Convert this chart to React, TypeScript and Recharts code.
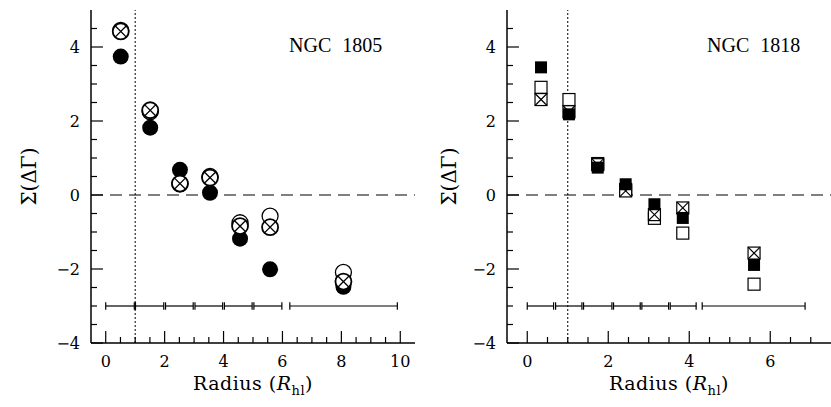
import React from "react";
import {
  ScatterChart,
  Scatter,
  XAxis,
  YAxis,
  ReferenceLine,
} from "recharts";

// ---------- NGC 1805 (circles) ----------
const radius1805 = [0.51, 1.51, 2.52, 3.54, 4.56, 5.58, 8.07];
const open1805 = [4.45, 2.25, 0.3, 0.5, -0.75, -0.57, -2.09];
const crossed1805 = [4.42, 2.29, 0.31, 0.47, -0.84, -0.87, -2.34];
const filled1805 = [3.74, 1.82, 0.68, 0.06, -1.18, -2.01, -2.48];
const binStart1805 = [0, 1.01, 2.03, 3.03, 4.03, 5.03, 6.25];
const binEnd1805 = [0.97, 1.97, 2.97, 3.97, 4.97, 5.98, 9.9];
const xTicks1805 = [0, 0.5, 1, 1.5, 2, 2.5, 3, 3.5, 4, 4.5, 5, 5.5, 6, 6.5, 7, 7.5, 8, 8.5, 9, 9.5, 10];

// ---------- NGC 1818 (squares) ----------
const radius1818 = [0.34, 1.03, 1.74, 2.43, 3.14, 3.84, 5.6];
const open1818 = [2.91, 2.58, 0.85, 0.15, -0.63, -1.03, -2.41];
const crossed1818 = [2.58, 2.25, 0.82, 0.11, -0.53, -0.35, -1.57];
const filled1818 = [3.45, 2.18, 0.74, 0.29, -0.25, -0.62, -1.89];
const binStart1818 = [0, 0.7, 1.39, 2.13, 2.83, 3.53, 4.32];
const binEnd1818 = [0.65, 1.35, 2.09, 2.79, 3.49, 4.17, 6.86];
const xTicks1818 = [0, 0.5, 1, 1.5, 2, 2.5, 3, 3.5, 4, 4.5, 5, 5.5, 6, 6.5, 7];

// ---------- shared ----------
const yTicks = [-4, -3.5, -3, -2.5, -2, -1.5, -1, -0.5, 0, 0.5, 1, 1.5, 2, 2.5, 3, 3.5, 4, 4.5];
const yDomain: [number, number] = [-4, 5];
const binLevel = -3;
const capHalf = 0.1;
const rhalf = 1;

const FONT = "'DejaVu Serif', serif";

const fmt = (v: number) => (v < 0 ? "\u2212" + Math.abs(v) : String(v));
const isMajor = (v: number) => Math.abs(v % 2) < 1e-6;

const BottomTick = (props: any) => {
  const { x, y, payload } = props;
  const v = payload.value;
  const m = isMajor(v);
  return (
    <g>
      <line x1={x} x2={x} y1={y} y2={y - (m ? 12 : 6)} stroke="#000" strokeWidth={1.2} />
      {m && (
        <text x={x} y={y + 24} textAnchor="middle" fontFamily={FONT} fontSize={16} fill="#000">
          {fmt(v)}
        </text>
      )}
    </g>
  );
};
const TopTick = (props: any) => {
  const { x, y, payload } = props;
  const m = isMajor(payload.value);
  return <line x1={x} x2={x} y1={y} y2={y + (m ? 12 : 6)} stroke="#000" strokeWidth={1.2} />;
};
const LeftTick = (props: any) => {
  const { x, y, payload } = props;
  const v = payload.value;
  const m = isMajor(v);
  return (
    <g>
      <line x1={x} x2={x + (m ? 12 : 6)} y1={y} y2={y} stroke="#000" strokeWidth={1.2} />
      {m && (
        <text x={x - 11} y={y + 6} textAnchor="end" fontFamily={FONT} fontSize={16} fill="#000">
          {fmt(v)}
        </text>
      )}
    </g>
  );
};
const RightTick = (props: any) => {
  const { x, y, payload } = props;
  const m = isMajor(payload.value);
  return <line x1={x} x2={x - (m ? 12 : 6)} y1={y} y2={y} stroke="#000" strokeWidth={1.2} />;
};

const R = 8;
const FilledCircle = (p: any) => <circle cx={p.cx} cy={p.cy} r={R} fill="#000" />;
const OpenCircle = (p: any) => (
  <circle cx={p.cx} cy={p.cy} r={R} fill="#fff" stroke="#000" strokeWidth={1.3} />
);
const CrossCircle = (p: any) => {
  const d = R * 0.707;
  return (
    <g>
      <circle cx={p.cx} cy={p.cy} r={R} fill="#fff" stroke="#000" strokeWidth={1.8} />
      <line x1={p.cx - d} y1={p.cy - d} x2={p.cx + d} y2={p.cy + d} stroke="#000" strokeWidth={1.3} />
      <line x1={p.cx - d} y1={p.cy + d} x2={p.cx + d} y2={p.cy - d} stroke="#000" strokeWidth={1.3} />
    </g>
  );
};
const S = 6;
const FilledSquare = (p: any) => <rect x={p.cx - S} y={p.cy - S} width={2 * S} height={2 * S} fill="#000" />;
const OpenSquare = (p: any) => (
  <rect x={p.cx - S} y={p.cy - S} width={2 * S} height={2 * S} fill="#fff" stroke="#000" strokeWidth={1.2} />
);
const CrossSquare = (p: any) => (
  <g>
    <rect x={p.cx - S} y={p.cy - S} width={2 * S} height={2 * S} fill="#fff" stroke="#000" strokeWidth={1.2} />
    <line x1={p.cx - S} y1={p.cy - S} x2={p.cx + S} y2={p.cy + S} stroke="#000" strokeWidth={1.2} />
    <line x1={p.cx - S} y1={p.cy + S} x2={p.cx + S} y2={p.cy - S} stroke="#000" strokeWidth={1.2} />
  </g>
);

const XLabel = (props: any) => {
  const vb = props.viewBox || {};
  const cx = vb.x + vb.width / 2;
  return (
    <text x={cx} y={vb.y + 47} textAnchor="middle" fontFamily={FONT} fontSize={19} fill="#000" letterSpacing={0.5}>
      Radius (<tspan fontStyle="italic">R</tspan>
      <tspan fontSize={13} dy={5}>hl</tspan>
      <tspan dy={-5}>)</tspan>
    </text>
  );
};
const YLabel = (props: any) => {
  const vb = props.viewBox || {};
  const cy = vb.y + vb.height / 2;
  const cx = props.lx;
  return (
    <text
      x={cx}
      y={cy}
      transform={`rotate(-90 ${cx} ${cy})`}
      textAnchor="middle"
      dominantBaseline="central"
      fontFamily={FONT}
      fontSize={20}
      fill="#000"
    >
      {"\u03A3(\u0394\u0393)"}
    </text>
  );
};

const zip = (xs: number[], ys: number[]) => xs.map((x, i) => ({ x, y: ys[i] }));

type PanelProps = {
  radius: number[];
  open: number[];
  crossed: number[];
  filled: number[];
  binStart: number[];
  binEnd: number[];
  xTicks: number[];
  xDomain: [number, number];
  yAxisWidth: number;
  rightMargin: number;
  yLabelX: number;
  squares: boolean;
};

const Panel = (p: PanelProps) => {
  const openData = zip(p.radius, p.open);
  const crossData = zip(p.radius, p.crossed);
  const filledData = zip(p.radius, p.filled);
  const binLines = p.binStart.map((s, i) => {
    const e = p.binEnd[i];
    return (
      <React.Fragment key={"b" + i}>
        <ReferenceLine segment={[{ x: s, y: binLevel }, { x: e, y: binLevel }]} stroke="#000" strokeWidth={1.2} />
        <ReferenceLine
          segment={[{ x: s, y: binLevel - capHalf }, { x: s, y: binLevel + capHalf }]}
          stroke="#000"
          strokeWidth={1.2}
        />
        <ReferenceLine
          segment={[{ x: e, y: binLevel - capHalf }, { x: e, y: binLevel + capHalf }]}
          stroke="#000"
          strokeWidth={1.2}
        />
      </React.Fragment>
    );
  });
  return (
    <ScatterChart
      width={420}
      height={407}
      margin={{ top: 10, right: p.rightMargin, bottom: 0, left: 0 }}
    >
      <XAxis
        xAxisId={0}
        type="number"
        dataKey="x"
        domain={p.xDomain}
        ticks={p.xTicks}
        interval={0}
        allowDataOverflow
        height={64}
        tickSize={0}
        tickMargin={0}
        tickLine={false}
        axisLine={{ stroke: "#000", strokeWidth: 1.5 }}
        tick={<BottomTick />}
        label={<XLabel />}
      />
      <XAxis
        xAxisId="top"
        orientation="top"
        type="number"
        dataKey="x"
        domain={p.xDomain}
        ticks={p.xTicks}
        interval={0}
        allowDataOverflow
        height={0}
        tickSize={0}
        tickMargin={0}
        tickLine={false}
        axisLine={{ stroke: "#000", strokeWidth: 1.5 }}
        tick={<TopTick />}
      />
      <YAxis
        yAxisId={0}
        type="number"
        dataKey="y"
        domain={yDomain}
        ticks={yTicks}
        interval={0}
        allowDataOverflow
        width={p.yAxisWidth}
        tickSize={0}
        tickMargin={0}
        tickLine={false}
        axisLine={{ stroke: "#000", strokeWidth: 1.5 }}
        tick={<LeftTick />}
        label={<YLabel lx={p.yLabelX} />}
      />
      <YAxis
        yAxisId="right"
        orientation="right"
        type="number"
        dataKey="y"
        domain={yDomain}
        ticks={yTicks}
        interval={0}
        allowDataOverflow
        width={0}
        tickSize={0}
        tickMargin={0}
        tickLine={false}
        axisLine={{ stroke: "#000", strokeWidth: 1.5 }}
        tick={<RightTick />}
      />
      <ReferenceLine x={rhalf} stroke="#000" strokeWidth={1} strokeDasharray="2 2" />
      <ReferenceLine y={0} stroke="#000" strokeWidth={1.2} strokeDasharray="12 7" />
      {binLines}
      <Scatter xAxisId="top" yAxisId="right" data={[]} isAnimationActive={false} />
      {p.squares ? (
        <>
          <Scatter data={openData} shape={<OpenSquare />} isAnimationActive={false} />
          <Scatter data={crossData} shape={<CrossSquare />} isAnimationActive={false} />
          <Scatter data={filledData} shape={<FilledSquare />} isAnimationActive={false} />
        </>
      ) : (
        <>
          <Scatter data={openData} shape={<OpenCircle />} isAnimationActive={false} />
          <Scatter data={filledData} shape={<FilledCircle />} isAnimationActive={false} />
          <Scatter data={crossData} shape={<CrossCircle />} isAnimationActive={false} />
        </>
      )}
    </ScatterChart>
  );
};

const nameStyle: React.CSSProperties = {
  position: "absolute",
  top: 33,
  fontFamily: "'Liberation Serif', 'Times New Roman', serif",
  fontSize: 20,
  wordSpacing: 6,
  color: "#000",
  lineHeight: "24px",
  whiteSpace: "pre",
};

export default function App() {
  return (
    <div
      style={{
        position: "absolute",
        left: 0,
        top: 0,
        width: 831,
        height: 407,
        overflow: "hidden",
        background: "#fff",
      }}
    >
      <div style={{ position: "absolute", left: 0, top: 0 }}>
        <Panel
          radius={radius1805}
          open={open1805}
          crossed={crossed1805}
          filled={filled1805}
          binStart={binStart1805}
          binEnd={binEnd1805}
          xTicks={xTicks1805}
          xDomain={[-0.5, 10.5]}
          yAxisWidth={91}
          rightMargin={5}
          yLabelX={29}
          squares={false}
        />
      </div>
      <div style={{ position: "absolute", left: 420, top: 0 }}>
        <Panel
          radius={radius1818}
          open={open1818}
          crossed={crossed1818}
          filled={filled1818}
          binStart={binStart1818}
          binEnd={binEnd1818}
          xTicks={xTicks1818}
          xDomain={[-0.5, 7.5]}
          yAxisWidth={87}
          rightMargin={9}
          yLabelX={29}
          squares={true}
        />
      </div>
      <div style={{ ...nameStyle, left: 289 }}>NGC 1805</div>
      <div style={{ ...nameStyle, left: 707 }}>NGC 1818</div>
    </div>
  );
}
